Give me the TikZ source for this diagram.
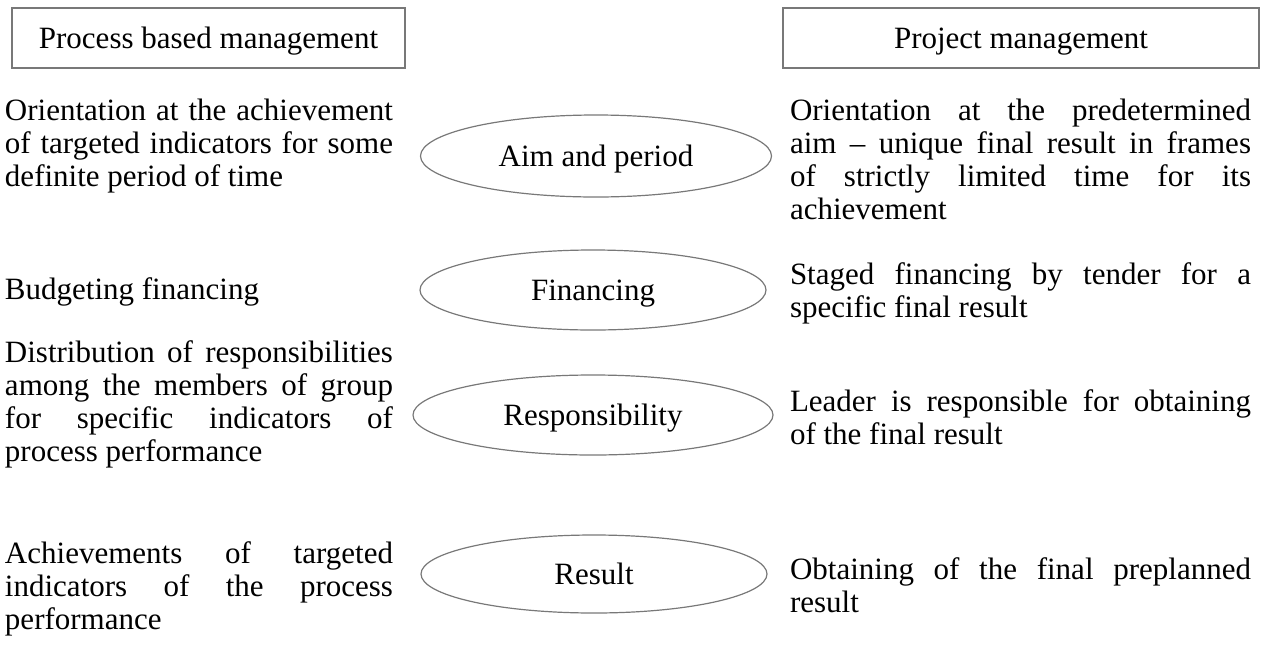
\documentclass[tikz,border=0pt]{standalone}
\usepackage{fontspec}
\setmainfont{Liberation Serif}
\usetikzlibrary{shapes.geometric}
\setlength{\parindent}{0pt}
\definecolor{linegray}{RGB}{120,120,120}
\newcommand\bodytextfont{\fontsize{31}{33}\selectfont
  \spaceskip=0.25em plus 2em minus 0.05em\relax
  \hyphenpenalty=10000\relax\exhyphenpenalty=10000\relax}
\tikzset{
  every node/.style={inner sep=0pt, outer sep=0pt},
  bigfont/.style={font=\fontsize{31}{33}\selectfont},
  txt/.style={anchor=base west, align=justify, font=\bodytextfont},
  ltxt/.style={txt, text width=388pt},
  rtxt/.style={txt, text width=461pt},
  hdr/.style={draw=linegray, line width=1.2pt, rectangle, minimum height=60pt,
    bigfont, text height=21pt, text depth=0pt},
  ell/.style={draw=linegray, line width=1.2pt, ellipse, bigfont,
    text height=21pt, text depth=0pt},
}
\begin{document}
\begin{tikzpicture}[x=1pt,y=-1pt]
\useasboundingbox (0,0) rectangle (1269,646);
% headers
\node[hdr, minimum width=393pt] (hl) at (208.5,38) {Process based management};
\node[hdr, minimum width=476pt] (hr) at (1021,38) {Project management};
% ellipses
\node[ell, minimum width=351pt, minimum height=82pt] (e1) at (596,156) {Aim and period};
\node[ell, minimum width=346pt, minimum height=80pt] (e2) at (593,290) {Financing};
\node[ell, minimum width=360pt, minimum height=80pt] (e3) at (593,415) {Responsibility};
\node[ell, minimum width=346pt, minimum height=78pt] (e4) at (594,574) {Result};
% left texts
\node[ltxt] (l1) at (5,120) {Orientation at the achievement\break of targeted indicators for some\break definite period of time};
\node[ltxt] (l2) at (5,299) {Budgeting financing};
\node[ltxt] (l3) at (5,362) {Distribution of responsibilities\break among the members of group\break for specific indicators of\break process performance};
\node[ltxt] (l4) at (5,563) {Achievements of targeted\break indicators of the process\break performance};
% right texts
\node[rtxt] (r1) at (790,120) {Orientation at the predetermined\break aim – unique final result in frames\break of strictly limited time for its\break achievement};
\node[rtxt] (r2) at (790,284) {Staged financing by tender for a\break specific final result};
\node[rtxt] (r3) at (790,411) {Leader is responsible for obtaining\break of the final result};
\node[rtxt] (r4) at (790,579) {Obtaining of the final preplanned\break result};
\end{tikzpicture}
\end{document}
